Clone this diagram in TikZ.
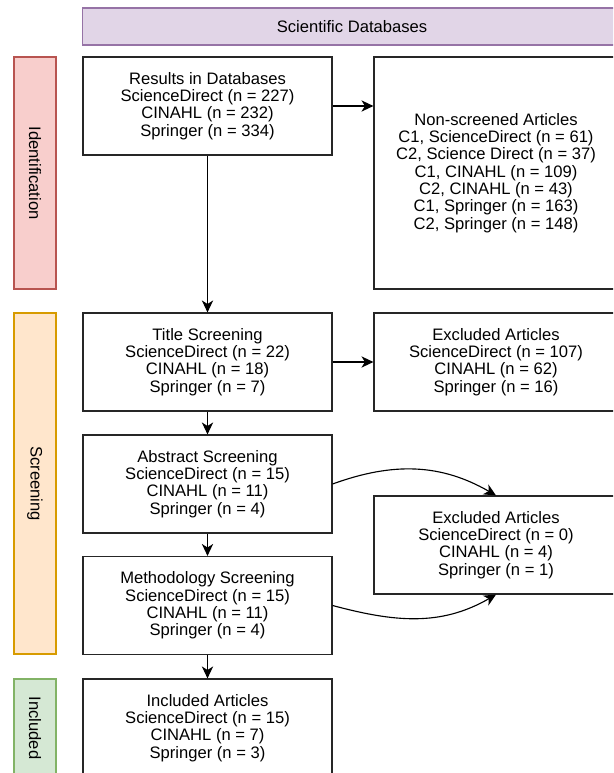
\documentclass[tikz,border=0pt]{standalone}
\usepackage{fontspec}
\setmainfont{Liberation Sans}
\usetikzlibrary{arrows.meta}
\definecolor{dbfill}{HTML}{E1D5E7}
\definecolor{dbline}{HTML}{9673A6}
\definecolor{idfill}{HTML}{F8CECC}
\definecolor{idline}{HTML}{B85450}
\definecolor{scfill}{HTML}{FFE6CC}
\definecolor{scline}{HTML}{D79B00}
\definecolor{infill}{HTML}{D5E8D4}
\definecolor{inline}{HTML}{82B366}
\begin{document}
\begin{tikzpicture}[x=0.025cm,y=-0.025cm]
	\tikzstyle{every node}=[font=\fontsize{11.8}{12.3}\selectfont]
	\tikzstyle{stagebox}=[draw=black!85, line width=0.8pt, fill=white, align=center, inner sep=0pt, minimum width=6.225cm, minimum height=2.45cm]
	\tikzstyle{sidebox}=[stagebox, minimum width=6.1cm]
	\tikzstyle{phasebar}=[line width=0.8pt, rotate=-90, inner sep=0pt, minimum height=1.05cm]
	\tikzstyle{flow}=[draw=black, line width=0.8pt, -{Stealth[length=8.5pt,width=8pt,inset=2.5pt]}]
	
	\useasboundingbox (0,0) rectangle (613,773);
	\clip (0,0) rectangle (613,773);
	
	% header
	\node [draw=dbline, fill=dbfill, line width=0.8pt, minimum width=13.45cm, minimum height=0.925cm] (db) at (352,26.5) {Scientific Databases};
	
	% phases
	\node [phasebar, draw=idline, fill=idfill, minimum width=5.8cm] (idbar) at (35,173) {Identification};
	\node [phasebar, draw=scline, fill=scfill, minimum width=8.525cm] (scbar) at (35,483.5) {Screening};
	\node [phasebar, draw=inline, fill=infill, minimum width=2.45cm] (inbar) at (35,728) {Included};
	
	% main column
	\node [stagebox] (res) at (207.5,106) {Results in Databases\\ScienceDirect (n = 227)\\CINAHL (n = 232)\\Springer (n = 334)};
	\node [stagebox] (tit) at (207.5,362) {Title Screening\\ScienceDirect (n = 22)\\CINAHL (n = 18)\\Springer (n = 7)};
	\node [stagebox] (abs) at (207.5,484) {Abstract Screening\\ScienceDirect (n = 15)\\CINAHL (n = 11)\\Springer (n = 4)};
	\node [stagebox] (met) at (207.5,605.5) {Methodology Screening\\ScienceDirect (n = 15)\\CINAHL (n = 11)\\Springer (n = 4)};
	\node [stagebox] (inc) at (207.5,728) {Included Articles\\ScienceDirect (n = 15)\\CINAHL (n = 7)\\Springer (n = 3)};
	
	% right column
	\node [sidebox, minimum height=5.8cm] (nons) at (496,173) {Non-screened Articles\\C1, ScienceDirect (n = 61)\\C2, Science Direct (n = 37)\\C1, CINAHL (n = 109)\\C2, CINAHL (n = 43)\\C1, Springer (n = 163)\\C2, Springer (n = 148)};
	\node [sidebox] (ex1) at (496,362) {Excluded Articles\\ScienceDirect (n = 107)\\CINAHL (n = 62)\\Springer (n = 16)};
	\node [sidebox] (ex2) at (496,545) {Excluded Articles\\ScienceDirect (n = 0)\\CINAHL (n = 4)\\Springer (n = 1)};
	
	% arrows
	\draw [flow] (res) -- (tit);
	\draw [flow] (tit) -- (abs);
	\draw [flow] (abs) -- (met);
	\draw [flow] (met) -- (inc);
	\draw [flow] (res.east) -- (res.east -| nons.west);
	\draw [flow] (tit) -- (ex1);
	\draw [flow] (abs.east) to[out=20,in=150] (ex2.north);
	\draw [flow] (met.east) to[out=-15,in=-150] (ex2.south);
	
	\end{tikzpicture}
\end{document}
